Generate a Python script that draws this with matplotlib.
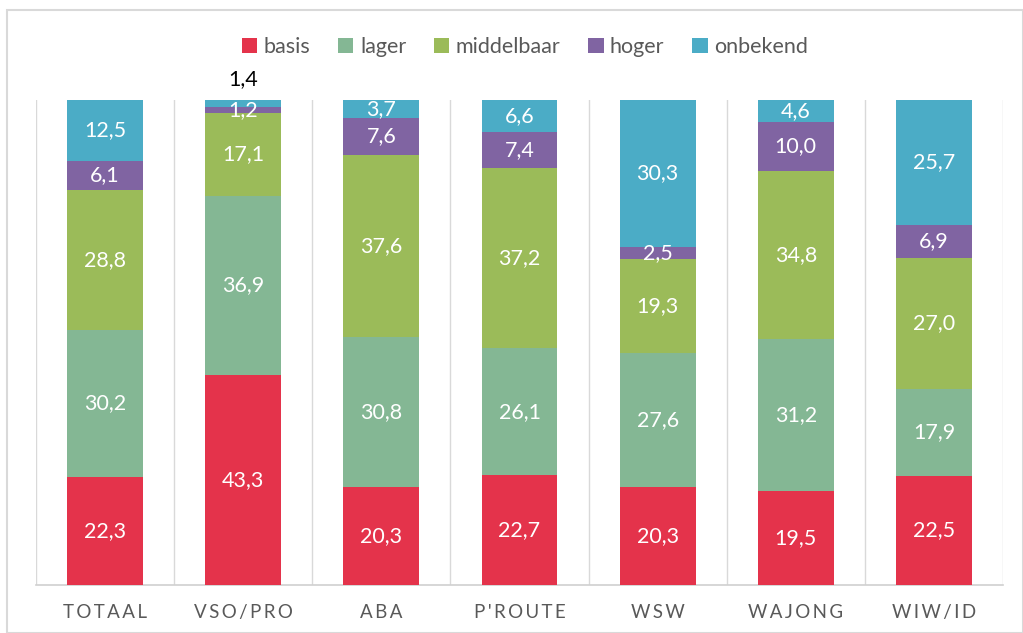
import matplotlib
matplotlib.use("Agg")
import matplotlib.pyplot as plt
import numpy as np

categories = ["TOTAAL", "VSO/PRO", "ABA", "P'ROUTE", "WSW", "WAJONG", "WIW/ID"]
series_names = ["basis", "lager", "middelbaar", "hoger", "onbekend"]
basis = [22.3, 43.3, 20.3, 22.7, 20.3, 19.5, 22.5]
lager = [30.2, 36.9, 30.8, 26.1, 27.6, 31.2, 17.9]
middelbaar = [28.8, 17.1, 37.6, 37.2, 19.3, 34.8, 27.0]
hoger = [6.1, 1.2, 7.6, 7.4, 2.5, 10.0, 6.9]
onbekend = [12.5, 1.4, 3.7, 6.6, 30.3, 4.6, 25.7]
colors = ["#E4334B", "#84B794", "#9BBB59", "#8064A2", "#4BACC6"]

plt.rcParams['font.family'] = ['Lato', 'DejaVu Sans']

data = np.array([basis, lager, middelbaar, hoger, onbekend])
totals = data.sum(axis=0)
pct = data / totals * 100

fig = plt.figure(figsize=(10.23, 6.33), dpi=100)
ax = fig.add_axes([36/1023, 1-585/633, (1003-36)/1023, (585-100)/633])

x = np.arange(len(categories))
bottom = np.zeros(len(categories))
for i, name in enumerate(series_names):
    ax.bar(x, pct[i], bottom=bottom, width=0.55, color=colors[i], label=name, zorder=3)
    for j in range(len(categories)):
        v = data[i, j]
        if name == "onbekend" and v < 1.5:
            ax.text(x[j], 100 + 2.2, f"{v:.1f}".replace(".", ","), ha="center", va="bottom",
                    color="black", fontsize=15.5)
        else:
            ax.text(x[j], bottom[j] + pct[i, j] / 2, f"{v:.1f}".replace(".", ","),
                    ha="center", va="center", color="white", fontsize=15.5, zorder=4)
    bottom += pct[i]

ax.set_xlim(-0.5, len(categories) - 0.5)
ax.set_ylim(0, 100)
ax.set_yticks([])
for b in np.arange(-0.5, len(categories), 1.0):
    ax.axvline(b, color="#D9D9D9", lw=1, zorder=1)
for s in ["top", "left", "right"]:
    ax.spines[s].set_visible(False)
ax.spines["bottom"].set_color("#D0D0D0")
ax.spines["bottom"].set_linewidth(1.2)
ax.set_xticks(x)
ax.set_xticklabels(["\u2009".join(c) for c in categories], color="#595959", fontsize=13.5)
ax.tick_params(axis="x", length=0, pad=14)

leg = fig.legend(loc="center", bbox_to_anchor=(525/1023, 1-47/633), ncol=5, frameon=False,
                 fontsize=15.5, handlelength=0.7, handleheight=0.7, handletextpad=0.3,
                 columnspacing=1.3, labelcolor="#595959")

border = plt.Rectangle((7/1023, 0), 1 - 7/1023, 1 - 10/633, transform=fig.transFigure,
                       fill=False, edgecolor="#D9D9D9", lw=1.5)
fig.patches.append(border)

fig.savefig("out.png", dpi=100)
